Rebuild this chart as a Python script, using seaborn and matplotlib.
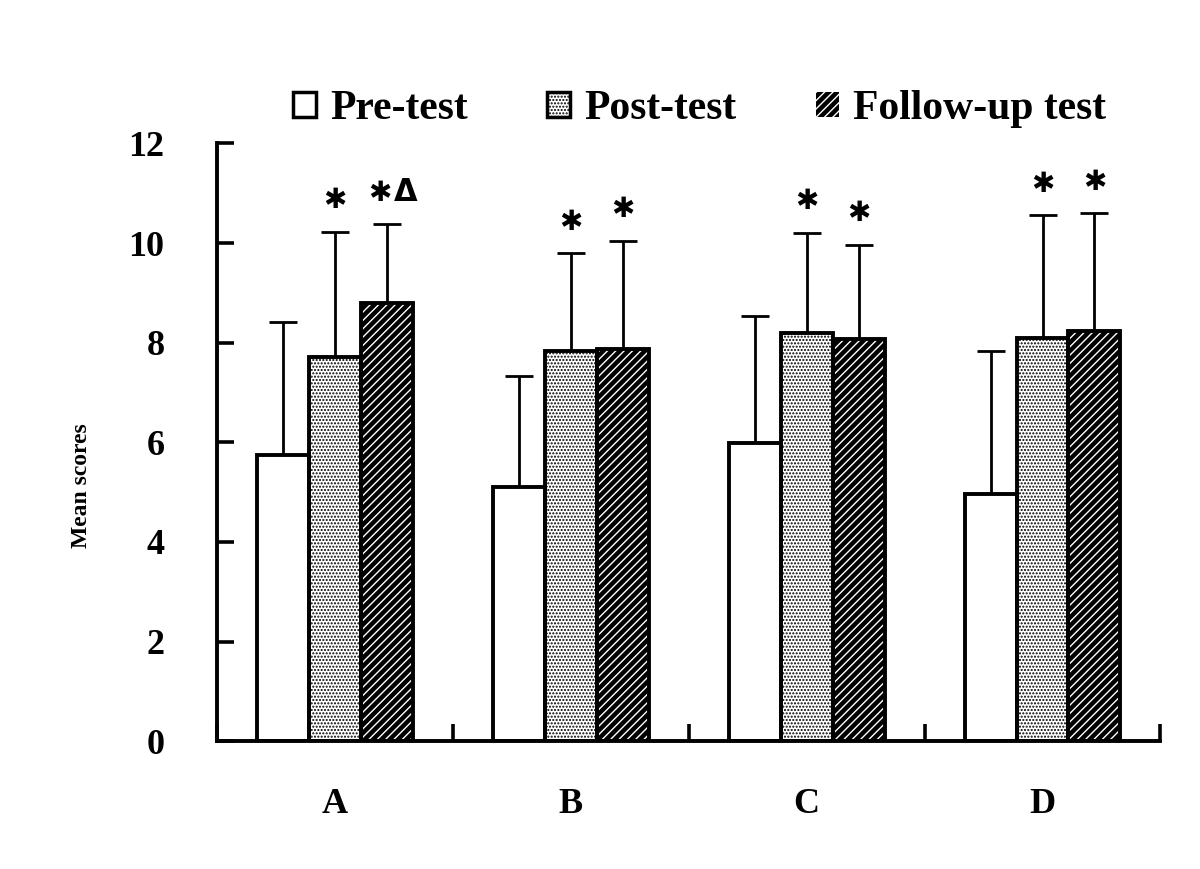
import matplotlib
matplotlib.use("Agg")
import matplotlib.pyplot as plt
from matplotlib.patches import Patch, Rectangle
import seaborn as sns
import pandas as pd
import numpy as np

categories = ["A", "B", "C", "D"]
series = ["Pre-test", "Post-test", "Follow-up test"]
pre_mean = [5.74, 5.10, 5.98, 4.96]
pre_sd = [2.67, 2.24, 2.55, 2.87]
post_mean = [7.71, 7.83, 8.19, 8.09]
post_sd = [2.52, 1.96, 2.02, 2.47]
follow_mean = [8.79, 7.87, 8.07, 8.23]
follow_sd = [1.59, 2.18, 1.90, 2.37]
marks_post = ["\u2731", "\u2731", "\u2731", "\u2731"]
marks_follow = ["\u2731", "\u2731", "\u2731", "\u2731"]
marks_follow_extra = ["\u0394", "", "", ""]
yticks = [0, 2, 4, 6, 8, 10, 12]

sns.set_style("white")
plt.rcParams["font.family"] = ["Liberation Serif", "DejaVu Sans"]
plt.rcParams["font.weight"] = "bold"
plt.rcParams["hatch.linewidth"] = 1.0
for k in ["text.color", "axes.labelcolor", "xtick.color", "ytick.color"]:
    plt.rcParams[k] = "black"

means = [pre_mean, post_mean, follow_mean]
sds = [pre_sd, post_sd, follow_sd]
rows = []
for s, m in zip(series, means):
    for c, v in zip(categories, m):
        rows.append({"cat": c, "series": s, "value": v})
df = pd.DataFrame(rows)

fig = plt.figure(figsize=(12, 8.69), dpi=100)
ax = fig.add_axes([0.181, 0.147, 0.786, 0.688])

sns.barplot(data=df, x="cat", y="value", hue="series", order=categories,
            hue_order=series, palette=["white", "white", "black"],
            errorbar=None, width=0.66, gap=0, dodge=True, ax=ax, legend=False,
            saturation=1)

styles = [dict(face="white", edge="black", hatch=None),
          dict(face="white", edge="black", hatch="....."),
          dict(face="black", edge="white", hatch="////")]

bar_conts = list(ax.containers)
for i, cont in enumerate(bar_conts):
    st = styles[i]
    for j, p in enumerate(cont.patches):
        p.set_facecolor(st["face"])
        p.set_edgecolor(st["edge"])
        p.set_linewidth(0)
        if st["hatch"]:
            p.set_hatch(st["hatch"])
        p.set_zorder(2)
        x0, y0 = p.get_x(), p.get_y()
        w, h = p.get_width(), p.get_height()
        ax.add_patch(Rectangle((x0, y0), w, h, fill=False, edgecolor="black",
                               linewidth=2.8, zorder=3))
        xc = x0 + w / 2
        ax.errorbar([xc], [h], yerr=[[0], [sds[i][j]]], fmt="none",
                    ecolor="black", elinewidth=2.0, capsize=10, capthick=2.0,
                    zorder=1)
        ytxt = h + sds[i][j] + 0.35
        if i == 1:
            ax.text(xc, ytxt, marks_post[j], ha="center", va="bottom",
                    fontsize=20, fontweight="bold",
                    family=["Liberation Serif", "DejaVu Sans"])
        elif i == 2:
            extra = marks_follow_extra[j]
            ax.text(xc - (0.03 if extra else 0), ytxt, marks_follow[j],
                    ha="center", va="bottom", fontsize=20, fontweight="bold",
                    family=["Liberation Serif", "DejaVu Sans"])
            if extra:
                ax.text(xc + 0.08, ytxt, extra, ha="center", va="bottom",
                        fontsize=22, fontweight="bold",
                        family=["DejaVu Sans"])

ax.set_xlim(-0.5, 3.5)
ax.set_ylim(0, 12)
ax.set_yticks(yticks)
ax.set_yticklabels([str(t) for t in yticks], fontsize=26, fontweight="bold")
ax.set_xticks(range(len(categories)))
ax.set_xticklabels(categories, fontsize=26, fontweight="bold")
ax.set_xticks(np.arange(-0.5, 3.6, 1.0), minor=True)
ax.tick_params(axis="x", which="major", length=0, pad=34)
ax.tick_params(axis="x", which="minor", direction="in", length=12, width=2.6,
               color="black", bottom=True)
ax.tick_params(axis="y", direction="in", length=12, width=2.6, pad=38,
               color="black", left=True)
ax.set_xlabel("")
ax.set_ylabel("Mean scores", fontsize=17, fontweight="bold")
ax.yaxis.set_label_coords(-0.1325, 0.428)
for side in ["top", "right"]:
    ax.spines[side].set_visible(False)
for side in ["left", "bottom"]:
    ax.spines[side].set_linewidth(2.8)
    ax.spines[side].set_color("black")

handles = [Patch(facecolor="white", edgecolor="black", linewidth=2.5),
           Patch(facecolor="white", edgecolor="black", hatch=".....", linewidth=2.5),
           Patch(facecolor="black", edgecolor="white", hatch="////", linewidth=0)]
fig.legend(handles, series, loc="center", bbox_to_anchor=(0.583, 0.874),
           ncol=3, frameon=False, handlelength=0.55,
           handleheight=0.55, handletextpad=0.35, columnspacing=1.9,
           prop={"weight": "bold", "size": 30})

fig.savefig("out.png", dpi=100)
